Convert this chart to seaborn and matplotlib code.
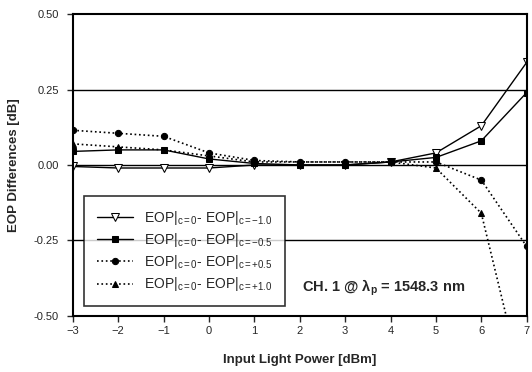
import matplotlib
matplotlib.use("Agg")
import matplotlib.pyplot as plt
import seaborn as sns
import pandas as pd

# input power [dBm]
power = [-3, -2, -1, 0, 1, 2, 3, 4, 5, 6, 7]

# EOP differences [dB] for each chirp pair
diff_m10 = [-0.005, -0.01, -0.01, -0.01, 0.0, 0.0, 0.0, 0.01, 0.04, 0.13, 0.34]
diff_m05 = [0.045, 0.05, 0.05, 0.02, 0.005, 0.0, 0.0, 0.01, 0.025, 0.08, 0.24]
diff_p05 = [0.115, 0.105, 0.095, 0.04, 0.015, 0.01, 0.01, 0.01, 0.01, -0.05, -0.27]
diff_p10 = [0.07, 0.06, 0.05, 0.03, 0.01, 0.01, 0.01, 0.01, -0.01, -0.16, -0.78]

labels = [
    r"EOP$|_{c=0}$- EOP$|_{c=-1.0}$",
    r"EOP$|_{c=0}$- EOP$|_{c=-0.5}$",
    r"EOP$|_{c=0}$- EOP$|_{c=+0.5}$",
    r"EOP$|_{c=0}$- EOP$|_{c=+1.0}$",
]

sns.set_style("white")
plt.rcParams["font.family"] = ["Liberation Sans", "DejaVu Sans"]
plt.rcParams["mathtext.fontset"] = "custom"
plt.rcParams["mathtext.rm"] = "Liberation Sans"
plt.rcParams["mathtext.it"] = "Liberation Sans"
plt.rcParams["mathtext.bf"] = "Liberation Sans:bold"

fig = plt.figure(figsize=(5.32, 3.72), dpi=100)
ax = fig.add_axes([0.137, 0.151, 0.853, 0.811])

styles = [
    dict(marker="v", linestyle="-", markerfacecolor="white", markersize=6, linewidth=1.0),
    dict(marker="s", linestyle="-", markerfacecolor="black", markersize=4, linewidth=1.0),
    dict(marker="o", linestyle=":", markerfacecolor="black", markersize=4.5, linewidth=1.2),
    dict(marker="^", linestyle=":", markerfacecolor="black", markersize=5, linewidth=1.2),
]

for vals, lab, st in zip([diff_m10, diff_m05, diff_p05, diff_p10], labels, styles):
    df = pd.DataFrame({"power": power, "diff": vals})
    sns.lineplot(data=df, x="power", y="diff", ax=ax, color="black",
                 markeredgecolor="black", label=lab, **st)

for yv in [0.25, 0.0, -0.25]:
    ax.axhline(yv, color="black", linewidth=1.0, zorder=0)

ax.set_xlim(-3, 7)
ax.set_ylim(-0.5, 0.5)
ax.set_xticks(power)
ax.set_yticks([-0.5, -0.25, 0.0, 0.25, 0.5])
ax.set_yticklabels(["-0.50", "-0.25", "0.00", "0.25", "0.50"])
ax.tick_params(axis="both", direction="out", length=4, width=1, labelsize=8,
               left=True, bottom=True)
ax.tick_params(axis="y", pad=6)
for side in ["left", "bottom", "top", "right"]:
    ax.spines[side].set_color("black")
    ax.spines[side].set_linewidth(1.5)

ax.set_xlabel("Input Light Power [dBm]", fontsize=9.5, fontweight="bold", labelpad=13)
ax.set_ylabel("EOP Differences [dB]", fontsize=9.5, fontweight="bold", labelpad=10)

leg = ax.legend(loc="lower left", bbox_to_anchor=(0.01, 0.01), fontsize=10,
                frameon=True, fancybox=False, edgecolor="black",
                handlelength=2.6, labelspacing=0.3, borderpad=0.9)
leg.get_frame().set_linewidth(1.2)

ax.text(0.505, 0.06, r"CH. 1 @ $\mathbf{\lambda_p}$ = 1548.3 nm", transform=ax.transAxes,
        fontsize=10.5, fontweight="bold", ha="left", va="bottom")

fig.savefig("out.png", dpi=100)
